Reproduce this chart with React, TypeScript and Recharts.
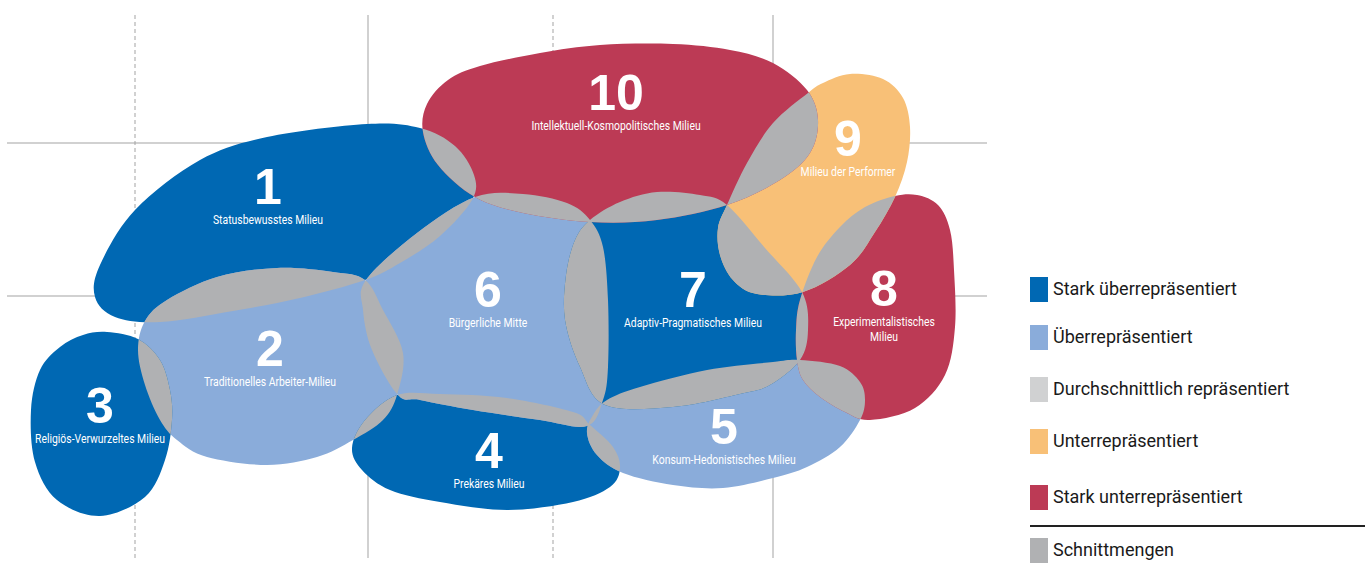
import React from 'react';
import { ScatterChart, Scatter, XAxis, YAxis } from 'recharts';

// Sinus-Milieus map: blobs traced in picture coordinates (x right, y down)
const WIDTH = 1371;
const HEIGHT = 576;

const DARK_BLUE = '#0068B3';
const LIGHT_BLUE = '#8AACDA';
const MID_GRAY = '#D0D1D2';
const ORANGE = '#F8C077';
const RED = '#BC3A55';
const OVERLAP = '#B0B1B3';
const GRID = '#A3A3A3';

type Pt = { x: number; y: number };

const statusOutline: Pt[] = [
  { x: 367, y: 124 }, { x: 420, y: 128 }, { x: 455, y: 146 }, { x: 474, y: 175 },
  { x: 472, y: 200 }, { x: 440, y: 236 }, { x: 400, y: 263 }, { x: 365, y: 280 },
  { x: 300, y: 298 }, { x: 233, y: 311 }, { x: 160, y: 322 }, { x: 115, y: 317 },
  { x: 95, y: 297 }, { x: 100, y: 265 }, { x: 135, y: 210 }, { x: 200, y: 160 },
  { x: 267, y: 137 },
];
const arbeiterOutline: Pt[] = [
  { x: 145, y: 321 }, { x: 167, y: 300 }, { x: 217, y: 277 }, { x: 277, y: 268 },
  { x: 333, y: 272 }, { x: 365, y: 280 }, { x: 383, y: 310 }, { x: 403, y: 353 },
  { x: 397, y: 395 }, { x: 383, y: 420 }, { x: 353, y: 440 }, { x: 317, y: 457 },
  { x: 267, y: 465 }, { x: 207, y: 457 }, { x: 177, y: 440 }, { x: 160, y: 420 },
  { x: 145, y: 385 }, { x: 138, y: 350 },
];
const religioesOutline: Pt[] = [
  { x: 107, y: 332 }, { x: 138, y: 339 }, { x: 160, y: 360 }, { x: 170, y: 390 },
  { x: 172, y: 420 }, { x: 165, y: 460 }, { x: 145, y: 497 }, { x: 100, y: 516 },
  { x: 57, y: 500 }, { x: 35, y: 462 }, { x: 31, y: 410 }, { x: 40, y: 370 },
  { x: 60, y: 347 }, { x: 83, y: 335 },
];
const prekaerOutline: Pt[] = [
  { x: 397, y: 395 }, { x: 440, y: 394 }, { x: 507, y: 398 }, { x: 573, y: 412 },
  { x: 590, y: 425 }, { x: 613, y: 447 }, { x: 620, y: 468 }, { x: 610, y: 487 },
  { x: 573, y: 502 }, { x: 507, y: 510 }, { x: 440, y: 502 }, { x: 390, y: 490 },
  { x: 362, y: 470 }, { x: 352, y: 448 }, { x: 365, y: 420 },
];
const konsumOutline: Pt[] = [
  { x: 607, y: 400 }, { x: 640, y: 387 }, { x: 707, y: 370 }, { x: 773, y: 362 },
  { x: 800, y: 360 }, { x: 840, y: 366 }, { x: 860, y: 382 }, { x: 865, y: 400 },
  { x: 860, y: 420 }, { x: 840, y: 447 }, { x: 807, y: 467 }, { x: 773, y: 478 },
  { x: 723, y: 488 }, { x: 673, y: 485 }, { x: 623, y: 473 }, { x: 597, y: 455 },
  { x: 587, y: 433 }, { x: 593, y: 415 },
];
const mitteOutline: Pt[] = [
  { x: 475, y: 197 }, { x: 523, y: 194 }, { x: 567, y: 203 }, { x: 590, y: 220 },
  { x: 603, y: 247 }, { x: 608, y: 300 }, { x: 608, y: 367 }, { x: 603, y: 400 },
  { x: 587, y: 426 }, { x: 540, y: 420 }, { x: 473, y: 410 }, { x: 420, y: 400 },
  { x: 398, y: 395 }, { x: 372, y: 350 }, { x: 363, y: 310 }, { x: 366, y: 280 },
  { x: 417, y: 233 },
];
const adaptivOutline: Pt[] = [
  { x: 590, y: 220 }, { x: 620, y: 202 }, { x: 657, y: 192 }, { x: 700, y: 195 },
  { x: 727, y: 205 }, { x: 765, y: 248 }, { x: 802, y: 292 }, { x: 808, y: 330 },
  { x: 800, y: 360 }, { x: 770, y: 385 }, { x: 740, y: 394 }, { x: 673, y: 407 },
  { x: 605, y: 405 }, { x: 580, y: 367 }, { x: 565, y: 320 }, { x: 566, y: 275 },
  { x: 575, y: 240 },
];
const experimentOutline: Pt[] = [
  { x: 895, y: 196 }, { x: 917, y: 195 }, { x: 938, y: 205 }, { x: 950, y: 230 },
  { x: 954, y: 270 }, { x: 955, y: 327 }, { x: 945, y: 375 }, { x: 915, y: 408 },
  { x: 870, y: 420 }, { x: 845, y: 412 }, { x: 820, y: 397 }, { x: 803, y: 380 },
  { x: 797, y: 360 }, { x: 796, y: 330 }, { x: 800, y: 300 }, { x: 817, y: 257 },
  { x: 840, y: 227 }, { x: 865, y: 207 },
];
const performerOutline: Pt[] = [
  { x: 850, y: 74 }, { x: 883, y: 79 }, { x: 903, y: 98 }, { x: 910, y: 127 },
  { x: 907, y: 162 }, { x: 895, y: 197 }, { x: 875, y: 232 }, { x: 850, y: 265 },
  { x: 803, y: 292 }, { x: 757, y: 294 }, { x: 733, y: 280 }, { x: 720, y: 255 },
  { x: 718, y: 228 }, { x: 727, y: 205 }, { x: 747, y: 163 }, { x: 773, y: 123 },
  { x: 808, y: 93 }, { x: 823, y: 83 },
];
const kosmoOutline: Pt[] = [
  { x: 448, y: 80 }, { x: 480, y: 66 }, { x: 540, y: 53 }, { x: 600, y: 45 },
  { x: 673, y: 44 }, { x: 730, y: 50 }, { x: 773, y: 63 }, { x: 807, y: 90 },
  { x: 818, y: 120 }, { x: 810, y: 153 }, { x: 780, y: 180 }, { x: 727, y: 205 },
  { x: 657, y: 220 }, { x: 590, y: 222 }, { x: 523, y: 213 }, { x: 475, y: 197 },
  { x: 438, y: 165 }, { x: 423, y: 132 }, { x: 427, y: 104 },
];

const milieus = [
  { id: 1, color: DARK_BLUE, outline: statusOutline },
  { id: 2, color: LIGHT_BLUE, outline: arbeiterOutline },
  { id: 3, color: DARK_BLUE, outline: religioesOutline },
  { id: 4, color: DARK_BLUE, outline: prekaerOutline },
  { id: 5, color: LIGHT_BLUE, outline: konsumOutline },
  { id: 6, color: LIGHT_BLUE, outline: mitteOutline },
  { id: 7, color: DARK_BLUE, outline: adaptivOutline },
  { id: 8, color: RED, outline: experimentOutline },
  { id: 9, color: ORANGE, outline: performerOutline },
  { id: 10, color: RED, outline: kosmoOutline },
];

// number centre of every milieu and its name (second line after \n)
const milieuLabels = [
  { x: 268, y: 186, num: '1', name: 'Statusbewusstes Milieu' },
  { x: 270, y: 348, num: '2', name: 'Traditionelles Arbeiter-Milieu' },
  { x: 100, y: 405, num: '3', name: 'Religiös-Verwurzeltes Milieu' },
  { x: 489, y: 450, num: '4', name: 'Prekäres Milieu' },
  { x: 724, y: 426, num: '5', name: 'Konsum-Hedonistisches Milieu' },
  { x: 488, y: 289, num: '6', name: 'Bürgerliche Mitte' },
  { x: 693, y: 289, num: '7', name: 'Adaptiv-Pragmatisches Milieu' },
  { x: 884, y: 288, num: '8', name: 'Experimentalistisches\nMilieu' },
  { x: 848, y: 138, num: '9', name: 'Milieu der Performer' },
  { x: 616, y: 92, num: '10', name: 'Intellektuell-Kosmopolitisches Milieu' },
];

const gridXs = [135, 368, 553, 773];
const gridXDashed = [true, false, true, false];
const gridYs = [143, 296];
const gridTop = 15;
const gridBottom = 558;
const gridLeft = 7;
const gridRight = 987;

const legendLabels = [
  'Stark überrepräsentiert',
  'Überrepräsentiert',
  'Durchschnittlich repräsentiert',
  'Unterrepräsentiert',
  'Stark unterrepräsentiert',
  'Schnittmengen',
];
const legendColors = [DARK_BLUE, LIGHT_BLUE, MID_GRAY, ORANGE, RED, OVERLAP];
const legendCentres = [289, 337, 389, 441, 497, 550];

const SANS = 'Roboto, "Noto Sans", sans-serif';

// closed Catmull-Rom curve through the scaled outline points
const closedPath = (pts: Pt[]) => {
  const n = pts.length;
  let d = `M${pts[0].x},${pts[0].y}`;
  for (let i = 0; i < n; i++) {
    const p0 = pts[(i - 1 + n) % n];
    const p1 = pts[i];
    const p2 = pts[(i + 1) % n];
    const p3 = pts[(i + 2) % n];
    const c1x = p1.x + (p2.x - p0.x) / 6;
    const c1y = p1.y + (p2.y - p0.y) / 6;
    const c2x = p2.x - (p3.x - p1.x) / 6;
    const c2y = p2.y - (p3.y - p1.y) / 6;
    d += ` C${c1x},${c1y} ${c2x},${c2y} ${p2.x},${p2.y}`;
  }
  return d + 'Z';
};

const noDot = () => <g />;

const App = () => {
  return (
    <div style={{ position: 'absolute', left: 0, top: 0, width: WIDTH, height: HEIGHT }}>
      <ScatterChart width={WIDTH} height={HEIGHT} margin={{ top: 0, right: 0, bottom: 0, left: 0 }}>
        <XAxis type="number" dataKey="x" domain={[0, WIDTH]} allowDataOverflow hide />
        <YAxis type="number" dataKey="y" domain={[0, HEIGHT]} allowDataOverflow reversed hide />

        {/* background grid */}
        {gridXs.map((gx, i) => (
          <Scatter
            key={`gx-${gx}`}
            data={[{ x: gx, y: gridTop }, { x: gx, y: gridBottom }]}
            isAnimationActive={false}
            shape={noDot}
            line={{ stroke: GRID, strokeWidth: 1, strokeDasharray: gridXDashed[i] ? '4 3' : undefined }}
          />
        ))}
        {gridYs.map((gy) => (
          <Scatter
            key={`gy-${gy}`}
            data={[{ x: gridLeft, y: gy }, { x: gridRight, y: gy }]}
            isAnimationActive={false}
            shape={noDot}
            line={{ stroke: GRID, strokeWidth: 1 }}
          />
        ))}

        {/* milieu areas */}
        {milieus.map((m) => (
          <Scatter
            key={`m-${m.id}`}
            data={m.outline}
            isAnimationActive={false}
            shape={noDot}
            line={(p: any) => {
              const d = closedPath(p.points);
              return (
                <g>
                  <clipPath id={`milieu-clip-${m.id}`}>
                    <path d={d} />
                  </clipPath>
                  <path d={d} fill={m.color} stroke="none" />
                </g>
              );
            }}
          />
        ))}

        {/* overlaps (Schnittmengen) */}
        {milieus.map((m, j) => (
          <Scatter
            key={`o-${m.id}`}
            data={m.outline}
            isAnimationActive={false}
            shape={noDot}
            line={(p: any) => {
              const d = closedPath(p.points);
              return (
                <g>
                  {milieus.slice(0, j).map((o) => (
                    <path key={o.id} d={d} fill={OVERLAP} stroke="none" clipPath={`url(#milieu-clip-${o.id})`} />
                  ))}
                </g>
              );
            }}
          />
        ))}

        {/* numbers and names */}
        <Scatter
          data={milieuLabels}
          isAnimationActive={false}
          shape={(p: any) => {
            const lines = String(p.payload.name).split('\n');
            return (
              <g>
                <text
                  x={p.cx}
                  y={p.cy + 18}
                  textAnchor="middle"
                  fill="#fff"
                  fontFamily='"Liberation Sans", Arial, sans-serif'
                  fontWeight={700}
                  fontSize={50}
                >
                  {p.payload.num}
                </text>
                {lines.map((t: string, k: number) => (
                  <text
                    key={k}
                    transform={`translate(${p.cx} ${p.cy + 38 + k * 15}) scale(0.8 1)`}
                    x={0}
                    y={0}
                    textAnchor="middle"
                    fill="#fff"
                    fontFamily={SANS}
                    fontSize={13}
                  >
                    {t}
                  </text>
                ))}
              </g>
            );
          }}
        />
      </ScatterChart>

      {/* legend */}
      {legendLabels.map((label, i) => (
        <div key={label}>
          <div
            style={{
              position: 'absolute',
              left: 1030,
              top: legendCentres[i] - 12.5,
              width: 18,
              height: 25,
              background: legendColors[i],
            }}
          />
          <div
            style={{
              position: 'absolute',
              left: 1053,
              top: legendCentres[i] - 13,
              height: 26,
              lineHeight: '26px',
              fontFamily: SANS,
              fontSize: 18,
              color: '#1a1a1a',
              whiteSpace: 'nowrap',
            }}
          >
            {label}
          </div>
        </div>
      ))}
      <div style={{ position: 'absolute', left: 1030, top: 525, width: 335, height: 1.5, background: '#222' }} />
    </div>
  );
};

export default App;
